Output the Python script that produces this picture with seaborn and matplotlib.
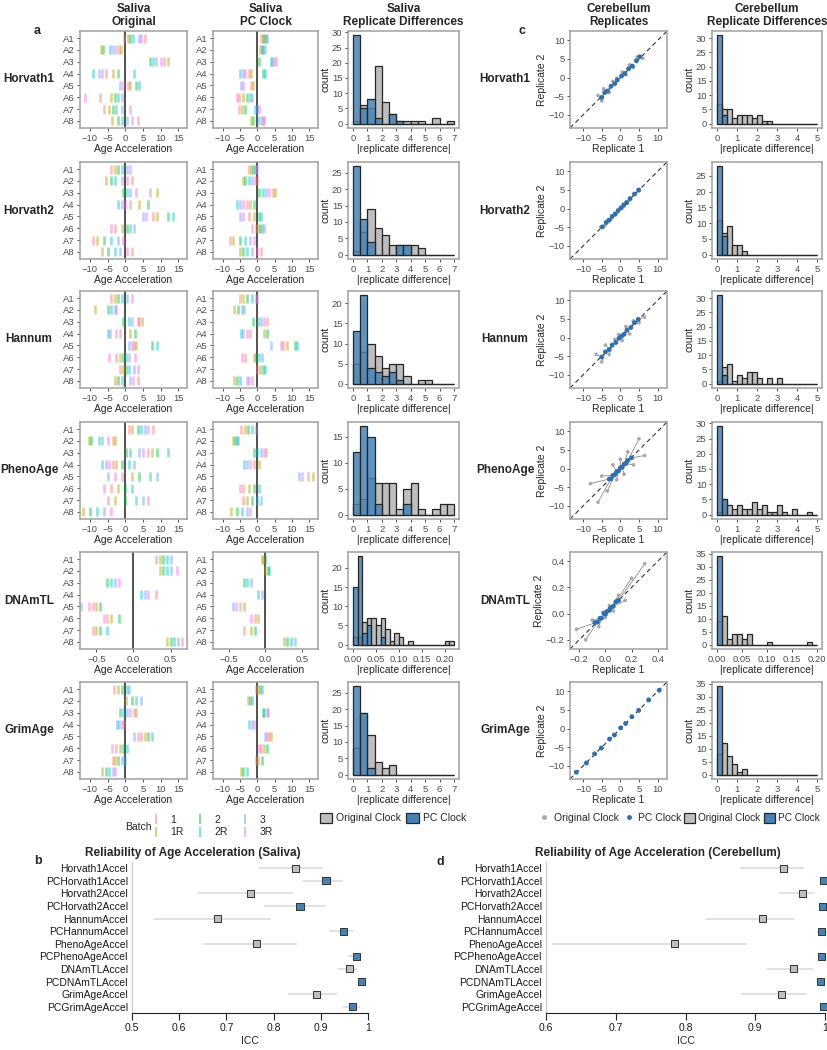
import numpy as np
import pandas as pd
import seaborn as sns
import matplotlib.pyplot as plt
from matplotlib.lines import Line2D
from matplotlib.patches import Patch
from matplotlib.ticker import MultipleLocator

CLOCKS = ["Horvath1", "Horvath2", "Hannum", "PhenoAge", "DNAmTL", "GrimAge"]
SAMPLES = ["A1", "A2", "A3", "A4", "A5", "A6", "A7", "A8"]
BATCHES = ["1", "1R", "2", "2R", "3", "3R"]
BATCH_COLORS = ["#F8766D", "#B79F00", "#00BA38", "#00BFC4", "#619CFF", "#F564E3"]
GREY = "#BEBEBE"
BLUE = "#4682B4"

# saliva age acceleration, one list per sample A1..A8
H1_ORIG = [[-0.3, 0.8, 1.5, 2.2, 3.8, 4.5, 5.5], [-6.8, -6.2, -4.2, -3.5, -2.5, -1.8, -1.2],
           [7.0, 8.0, 8.8, 10.0, 11.0, 12.0], [-9.0, -7.5, -6.5, -5.5, -3.5, -2.0, 2.5],
           [-1.5, -0.5, 0.8, 1.5, 3.0, 4.0], [-11.3, -7.0, -4.0, -3.0, -2.0, -1.0],
           [-6.0, -4.5, -3.5, -2.5, -1.0, 1.5], [-3.8, -2.0, -1.0, 0.5, 2.0, 3.5]]
H1_PC = [[1.0, 1.5, 2.0, 2.5, 2.8], [0.9, 1.2, 1.6, 2.2], [0.5, 3.9, 4.3, 4.8, 5.3],
         [-5.0, -4.2, -3.5, -2.5, -1.8, 1.5, 2.3], [-4.6, -4.0, -1.8, -1.2],
         [-5.8, -5.2, -4.0, -3.0, -2.0, -1.5], [-5.2, -4.5, -3.7, -0.6, -0.2, 0.5],
         [-1.8, -1.2, 0.3, 1.0, 1.7, 2.0]]
H2_ORIG = [[-4.0, -3.0, -2.0, -1.0, 0.5, 1.5], [-5.5, -4.0, -3.0, -1.0, 0.5, 2.0],
           [-0.5, 0.5, 1.5, 3.0, 7.0, 9.0], [-2.0, -1.0, 0.0, 1.5, 4.0, 6.5],
           [5.0, 6.0, 8.0, 9.0, 12.0, 13.5], [-4.0, -3.0, -1.0, 0.5, 1.5, 2.5],
           [-9.0, -8.0, -6.0, -4.0, -2.0, -0.5], [-6.5, -5.0, -3.0, -1.5, 0.5, 2.0]]
H2_PC = [[-2.3, -1.8, -1.2, -0.8, -0.3, 0.0], [-4.0, -3.5, -2.5, -1.5, -0.8, -0.2],
         [0.5, 1.5, 2.5, 3.5, 4.5, 5.0], [-6.0, -5.0, -4.0, -3.0, -2.0, -1.0],
         [-5.0, -4.0, -2.5, -1.0, 0.5, 1.0], [-1.5, -0.5, 0.3, 0.8, 1.3, 1.8],
         [-7.8, -7.0, -5.0, -3.5, -2.0, -1.0], [-5.0, -4.0, -3.0, -1.5, 0.0, 1.0]]
HA_ORIG = [[-4.0, -3.0, -2.0, -1.0, 0.5, 2.0], [-8.5, -5.0, -4.0, -3.0, -2.5],
           [-0.5, 1.0, 2.0, 3.5, 4.0, 4.8], [-5.0, -4.3, -2.5, -1.5, 1.5, 2.8],
           [1.0, 1.8, 2.5, 3.0, 7.5, 9.0], [-4.5, -2.5, -1.5, -0.5, 0.3, 1.2, 2.8],
           [-1.5, -0.5, 0.3, 1.0, 2.5, 3.5], [-2.8, -2.0, -1.0, 1.5, 2.3, 3.5]]
HA_PC = [[-5.0, -4.0, -3.0, -1.5, -0.5, 0.0], [-6.7, -5.5, -4.5, -3.8],
         [-1.4, 0.3, 1.0, 1.8, 2.9], [-4.8, -4.0, -3.0, -2.0, 2.0, 2.9],
         [3.8, 6.8, 7.5, 8.5, 11.0, 11.5], [-4.3, -3.5, -1.0, -0.3, 0.5, 1.3],
         [0.0, 0.8, 1.5, 2.2], [-6.7, -6.0, -5.0, -3.0, -2.3, -1.5]]
PA_ORIG = [[1.0, 2.0, 3.5, 4.5, 5.5, 6.5, 8.0], [-10.3, -9.8, -7.5, -6.5, -5.0, -3.5, -2.8],
           [0.2, 1.5, 4.0, 5.0, 6.5, 7.5, 9.0, 12.0], [-6.7, -5.5, -4.5, -3.5, -2.5, -0.8, 1.2, 2.5],
           [-5.0, -3.0, -1.0, 2.0, 4.0, 7.0, 9.0], [-6.0, -4.0, -2.0, 0.0, 2.0],
           [-5.0, -3.0, 0.0, 3.0, 5.0, 6.5], [-12.0, -10.0, -8.0, -6.0, -4.0]]
PA_PC = [[-4.8, -3.5, -2.7, -1.5, -0.3], [-7.0, -6.5, -6.0, -5.5], [-1.0, 0.0, 1.0, 2.0, 2.5],
         [-3.8, -3.0, -2.0, -1.0, 0.5], [12.0, 13.0, 14.5, 16.0], [-5.0, -4.0, -2.5, -1.0, 0.5],
         [-4.0, -3.0, -1.5, 0.0, 1.0], [-7.5, -6.0, -4.5, -3.0, -2.0]]
TL_ORIG = [[0.3, 0.35, 0.4, 0.45, 0.5], [0.35, 0.4, 0.45, 0.5, 0.58], [-0.35, -0.3, -0.25, -0.2],
           [0.1, 0.15, 0.2, 0.3], [-0.7, -0.6, -0.55, -0.5, -0.45], [-0.4, -0.35, -0.3, -0.2],
           [-0.55, -0.5, -0.45, -0.35], [0.45, 0.5, 0.55, 0.6, 0.65]]
TL_PC = [[-0.05, -0.03, 0.0], [0.0, 0.03, 0.05], [-0.3, -0.25, -0.2], [-0.1, -0.05],
         [-0.45, -0.4, -0.35, -0.3], [-0.2, -0.15, -0.1], [-0.3, -0.2, -0.15],
         [0.25, 0.3, 0.35, 0.4]]
GA_ORIG = [[-3.3, -2.0, -1.0, 0.5, 1.2], [0.3, 2.0, 3.0, 4.5], [-1.4, -0.5, 0.5, 1.5, 2.5, 3.0],
           [-2.4, -1.8, -1.0, -0.3], [2.4, 3.5, 4.5, 5.5, 6.5, 7.5], [-3.8, -2.5, -1.5, -0.5, 0.5],
           [-3.5, -2.8, -2.0, -1.0, 0.0], [-6.7, -5.5, -4.5, -3.5, -2.9]]
GA_PC = [[-0.5, 0.3, 0.8, 1.2], [-2.8, -2.2, -1.6], [1.5, 2.0, 2.8, 3.2], [-2.4, -1.5, -1.0],
         [2.2, 2.8, 3.5, 3.8], [0.5, 1.0, 1.8, 2.7], [-0.5, 0.3, 1.2], [-4.7, -4.0, -3.0]]

# saliva |replicate difference| histogram counts (bin width 0.5 from 0 to 7; DNAmTL 0.01 from 0 to 0.22)
SAL_H1_ORIG = [1, 6, 5, 19, 7, 3, 1, 1, 1, 1, 0, 2, 0, 1]
SAL_H1_PC = [29, 5, 8, 2, 0, 3, 1, 0, 0, 0, 0, 0, 0, 0]
SAL_H2_ORIG = [1, 7, 14, 8, 6, 3, 3, 3, 3, 2, 0, 0, 0, 0]
SAL_H2_PC = [27, 11, 4, 0, 0, 0, 3, 3, 0, 0, 0, 0, 0, 0]
SAL_HA_ORIG = [5, 8, 10, 7, 4, 5, 5, 2, 0, 1, 1, 0, 0, 0]
SAL_HA_PC = [13, 22, 4, 3, 2, 3, 1, 0, 0, 0, 0, 0, 0, 0]
SAL_PA_ORIG = [2, 3, 7, 6, 6, 6, 1, 5, 6, 1, 0, 1, 2, 2]
SAL_PA_PC = [12, 17, 15, 2, 0, 0, 0, 2, 0, 0, 0, 0, 0, 0]
SAL_TL_ORIG = [2, 2, 6, 7, 7, 5, 7, 4, 1, 3, 2, 0, 1, 0, 0, 0, 0, 0, 0, 0, 1, 1]
SAL_TL_PC = [15, 23, 3, 5, 0, 0, 2, 0, 0, 0, 0, 0, 0, 0, 0, 0, 0, 0, 0, 0, 0, 0]
SAL_GA_ORIG = [8, 19, 12, 4, 2, 3, 0, 0, 0, 0, 0, 0, 0, 0]
SAL_GA_PC = [27, 19, 2, 0, 0, 0, 0, 0, 0, 0, 0, 0, 0, 0]

# cerebellum |replicate difference| histogram counts (bin width 0.25 from 0 to 5; DNAmTL 0.01 from 0 to 0.2)
CER_H1_ORIG = [7, 5, 5, 2, 3, 3, 3, 2, 3, 1, 1, 0, 0, 0, 0, 0, 0, 0, 0, 0]
CER_H1_PC = [31, 3, 0, 0, 0, 0, 0, 0, 0, 0, 0, 0, 0, 0, 0, 0, 0, 0, 0, 0]
CER_H2_ORIG = [11, 7, 9, 3, 3, 1, 0, 0, 0, 0, 0, 0, 0, 0, 0, 0, 0, 0, 0, 0]
CER_H2_PC = [28, 6, 0, 0, 0, 0, 0, 0, 0, 0, 0, 0, 0, 0, 0, 0, 0, 0, 0, 0]
CER_HA_ORIG = [1, 6, 7, 1, 3, 2, 4, 4, 2, 0, 2, 0, 2, 0, 0, 0, 0, 0, 0, 0]
CER_HA_PC = [31, 3, 0, 0, 0, 0, 0, 0, 0, 0, 0, 0, 0, 0, 0, 0, 0, 0, 0, 0]
CER_PA_ORIG = [1, 5, 3, 2, 3, 2, 2, 4, 2, 3, 1, 1, 3, 1, 0, 2, 0, 0, 1, 0]
CER_PA_PC = [29, 5, 0, 0, 0, 0, 0, 0, 0, 0, 0, 0, 0, 0, 0, 0, 0, 0, 0, 0]
CER_TL_ORIG = [9, 11, 2, 4, 4, 2, 4, 0, 0, 0, 1, 0, 0, 0, 0, 0, 0, 0, 1, 0]
CER_TL_PC = [34, 0, 0, 0, 0, 0, 0, 0, 0, 0, 0, 0, 0, 0, 0, 0, 0, 0, 0, 0]
CER_GA_ORIG = [8, 12, 7, 4, 1, 2, 0, 0, 0, 0, 0, 0, 0, 0, 0, 0, 0, 0, 0, 0]
CER_GA_PC = [34, 0, 0, 0, 0, 0, 0, 0, 0, 0, 0, 0, 0, 0, 0, 0, 0, 0, 0, 0]

# cerebellum replicates (replicate 1, replicate 2) for original and PC clocks
REP_H1 = ([-6.0, -5.0, -4.5, -3.0, -2.0, -1.0, 0.5, 1.5, 2.5, 3.5, 4.5, 6.0],
          [-4.8, -6.2, -3.0, -4.0, -1.0, -0.2, 1.5, 0.8, 3.4, 2.8, 5.5, 5.2],
          [-5.0, -4.2, -3.5, -2.5, -1.5, -0.8, 0.3, 1.2, 2.2, 3.2, 4.3, 5.2],
          [-5.3, -4.0, -3.6, -2.3, -1.6, -0.6, 0.4, 1.1, 2.4, 3.1, 4.5, 5.6])
REP_H2 = ([-5.2, -4.0, -3.3, -2.5, -1.5, -0.8, 0.0, 0.8, 1.6, 2.5, 3.6, 5.0],
          [-4.9, -4.4, -3.0, -2.8, -1.2, -1.0, 0.3, 0.5, 1.9, 2.3, 3.9, 4.8],
          [-4.8, -3.8, -3.0, -2.2, -1.4, -0.6, 0.2, 0.9, 1.7, 2.6, 3.8, 4.9],
          [-4.9, -3.7, -3.1, -2.1, -1.5, -0.5, 0.2, 1.0, 1.6, 2.7, 3.9, 5.0])
REP_HA = ([-6.5, -5.0, -4.0, -3.0, -1.5, -0.5, 0.5, 1.5, 2.5, 3.5, 5.0, 6.5],
          [-4.5, -6.5, -2.0, -4.5, -0.5, 0.8, -0.8, 3.0, 1.0, 4.5, 4.0, 5.5],
          [-5.0, -4.0, -3.0, -2.2, -1.2, -0.4, 0.3, 1.0, 1.8, 2.8, 3.8, 4.8],
          [-5.2, -3.8, -3.2, -2.0, -1.3, -0.2, 0.4, 0.9, 2.0, 2.7, 4.0, 4.9])
REP_PA = ([-8.0, -6.0, -5.0, -3.5, -2.0, -1.0, 0.0, 1.0, 2.0, 3.5, 5.0, 6.5],
          [-4.0, -9.0, -2.0, -6.0, 1.0, -3.0, 2.5, -1.5, 4.5, 1.0, 8.0, 3.5],
          [-3.0, -2.5, -2.0, -1.5, -1.0, -0.5, 0.0, 0.5, 1.0, 1.5, 2.0, 3.0],
          [-2.8, -2.7, -1.8, -1.6, -0.8, -0.6, 0.2, 0.4, 1.2, 1.4, 2.2, 2.9])
REP_TL = ([-0.22, -0.15, -0.1, -0.05, -0.02, 0.0, 0.03, 0.06, 0.1, 0.15, 0.2, 0.3],
          [-0.12, -0.2, -0.05, -0.1, 0.01, -0.03, 0.06, 0.02, 0.14, 0.1, 0.27, 0.38],
          [-0.08, -0.06, -0.04, -0.03, -0.01, 0.0, 0.01, 0.03, 0.04, 0.06, 0.08, 0.1],
          [-0.07, -0.065, -0.035, -0.035, 0.0, -0.005, 0.015, 0.025, 0.045, 0.055, 0.09, 0.1])
REP_GA = ([-12.0, -9.0, -7.0, -5.0, -3.0, -1.5, 0.0, 1.5, 3.0, 5.0, 7.5, 10.5],
          [-11.6, -9.4, -6.6, -5.3, -2.7, -1.8, 0.3, 1.3, 3.3, 4.8, 7.8, 10.2],
          [-11.8, -9.1, -6.9, -5.1, -2.9, -1.6, 0.1, 1.4, 3.1, 4.9, 7.6, 10.4],
          [-11.7, -9.2, -6.8, -5.2, -2.8, -1.7, 0.2, 1.4, 3.2, 4.9, 7.7, 10.3])

# reliability (ICC with confidence interval)
ICC_TERMS = ["Horvath1Accel", "PCHorvath1Accel", "Horvath2Accel", "PCHorvath2Accel",
             "HannumAccel", "PCHannumAccel", "PhenoAgeAccel", "PCPhenoAgeAccel",
             "DNAmTLAccel", "PCDNAmTLAccel", "GrimAgeAccel", "PCGrimAgeAccel"]
SAL_ICC = [0.847, 0.911, 0.752, 0.856, 0.682, 0.948, 0.763, 0.975, 0.960, 0.987, 0.891, 0.968]
SAL_LO = [0.769, 0.862, 0.638, 0.780, 0.547, 0.918, 0.651, 0.958, 0.937, 0.979, 0.831, 0.947]
SAL_HI = [0.905, 0.947, 0.842, 0.911, 0.794, 0.969, 0.849, 0.985, 0.977, 0.993, 0.934, 0.982]
CER_ICC = [0.940, 0.998, 0.968, 0.997, 0.911, 0.995, 0.784, 0.995, 0.955, 0.994, 0.938, 0.998]
CER_LO = [0.878, 0.996, 0.934, 0.994, 0.829, 0.990, 0.609, 0.990, 0.917, 0.989, 0.879, 0.996]
CER_HI = [0.970, 0.999, 0.984, 0.999, 0.956, 0.998, 0.888, 0.998, 0.983, 0.997, 0.974, 0.999]

sns.set_theme(style="white")
plt.rcParams["font.family"] = ["Liberation Sans", "DejaVu Sans"]
plt.rcParams["axes.unicode_minus"] = True

W, H = 828, 1050
fig = plt.figure(figsize=(W / 100, H / 100), dpi=100)


def px_axes(x0, y0, x1, y1):
    return fig.add_axes([x0 / W, 1 - y1 / H, (x1 - x0) / W, (y1 - y0) / H])


def box_style(ax):
    for s in ax.spines.values():
        s.set_color("#A0A0A0")
        s.set_linewidth(1.1)
    ax.tick_params(axis="both", which="both", length=2.5, width=0.6, color="#333333",
                   labelsize=6.8, labelcolor="#4D4D4D", pad=1.5, direction="out",
                   bottom=True, left=True)


def tick_panel(ax, rows, xlim, xticks, fmt):
    recs = [(v, i, BATCHES[(i + j) % 6]) for i, r in enumerate(rows) for j, v in enumerate(r)]
    df = pd.DataFrame(recs, columns=["acc", "row", "batch"])
    ax.axvline(0, color="#222222", lw=1.1, zorder=1)
    sns.scatterplot(data=df, x="acc", y="row", hue="batch", hue_order=BATCHES,
                    palette=BATCH_COLORS, marker="|", s=42, linewidth=1.9, alpha=0.45,
                    legend=False, ax=ax, zorder=2)
    ax.set_xlim(xlim)
    ax.set_ylim(7.6, -0.6)
    ax.set_yticks(range(8))
    ax.set_yticklabels(SAMPLES)
    ax.set_xticks(xticks)
    ax.set_xticklabels([fmt(t) for t in xticks])
    ax.set_ylabel("")
    ax.set_xlabel("Age Acceleration", fontsize=7.5, labelpad=1)
    box_style(ax)


def hist_panel(ax, width, nbins, orig, pc, xticks, fmt):
    centers = (np.arange(nbins) + 0.5) * width
    df = pd.DataFrame({"diff": centers, "orig": orig, "pc": pc})
    rng = (0.0, nbins * width)
    sns.histplot(data=df, x="diff", weights="orig", binwidth=width, binrange=rng,
                 color=GREY, alpha=1.0, edgecolor="#262626", linewidth=0.9, ax=ax)
    sns.histplot(data=df, x="diff", weights="pc", binwidth=width, binrange=rng,
                 color=BLUE, alpha=0.85, edgecolor="#262626", linewidth=0.9, ax=ax)
    top = max(max(orig), max(pc))
    span = rng[1]
    ax.set_xlim(-0.05 * span, 1.05 * span)
    ax.set_ylim(-0.05 * top, 1.05 * top)
    ax.yaxis.set_major_locator(MultipleLocator(5))
    ax.set_xticks(xticks)
    ax.set_xticklabels([fmt(t) for t in xticks])
    ax.set_ylabel("count", fontsize=7.5, labelpad=1)
    ax.set_xlabel("|replicate difference|", fontsize=7.5, labelpad=1)
    box_style(ax)


def rep_panel(ax, rep, lim, ticks, fmt):
    r1o, r2o, r1p, r2p = rep
    ax.plot(lim, lim, color="#333333", lw=0.8, ls=(0, (4, 3)), zorder=1)
    for a, b, c, d in zip(r1o, r2o, r1p, r2p):
        ax.plot([a, c], [b, d], color="#8C8C8C", lw=0.6, zorder=2)
    sns.scatterplot(x=r1o, y=r2o, color="#A8A8A8", s=7, edgecolor="none", ax=ax, zorder=3)
    sns.scatterplot(x=r1p, y=r2p, color="#2F6FAE", s=12, edgecolor="none", ax=ax, zorder=4)
    ax.set_xlim(lim)
    ax.set_ylim(lim)
    ax.set_xticks(ticks)
    ax.set_yticks(ticks)
    ax.set_xticklabels([fmt(t) for t in ticks])
    ax.set_yticklabels([fmt(t) for t in ticks])
    ax.set_xlabel("Replicate 1", fontsize=7.5, labelpad=1)
    ax.set_ylabel("Replicate 2", fontsize=7.5, labelpad=1)
    box_style(ax)


int_fmt = lambda t: f"{t:g}".replace("-", "\u2212")
one_fmt = lambda t: f"{t:.1f}".replace("-", "\u2212")
two_fmt = lambda t: f"{t:.2f}"

ORIG_ROWS = [H1_ORIG, H2_ORIG, HA_ORIG, PA_ORIG, TL_ORIG, GA_ORIG]
PC_ROWS = [H1_PC, H2_PC, HA_PC, PA_PC, TL_PC, GA_PC]
SAL_HISTS = [(SAL_H1_ORIG, SAL_H1_PC), (SAL_H2_ORIG, SAL_H2_PC), (SAL_HA_ORIG, SAL_HA_PC),
             (SAL_PA_ORIG, SAL_PA_PC), (SAL_TL_ORIG, SAL_TL_PC), (SAL_GA_ORIG, SAL_GA_PC)]
CER_HISTS = [(CER_H1_ORIG, CER_H1_PC), (CER_H2_ORIG, CER_H2_PC), (CER_HA_ORIG, CER_HA_PC),
             (CER_PA_ORIG, CER_PA_PC), (CER_TL_ORIG, CER_TL_PC), (CER_GA_ORIG, CER_GA_PC)]
REPS = [REP_H1, REP_H2, REP_HA, REP_PA, REP_TL, REP_GA]

ROW_TOPS = [31, 162, 291, 422, 552, 682]
RH = 97

for k, clock in enumerate(CLOCKS):
    y0 = ROW_TOPS[k]
    y1 = y0 + RH
    tl = clock == "DNAmTL"
    a1 = px_axes(80, y0, 187, y1)
    a2 = px_axes(213, y0, 318, y1)
    a3 = px_axes(348, y0, 459, y1)
    a4 = px_axes(570, y0, 667, y1)
    a5 = px_axes(712, y0, 822, y1)
    if tl:
        tick_panel(a1, ORIG_ROWS[k], (-0.72, 0.72), [-0.5, 0.0, 0.5], one_fmt)
        tick_panel(a2, PC_ROWS[k], (-0.72, 0.72), [-0.5, 0.0, 0.5], one_fmt)
        hist_panel(a3, 0.01, 22, *SAL_HISTS[k], [0, 0.05, 0.1, 0.15, 0.2], two_fmt)
        rep_panel(a4, REPS[k], (-0.27, 0.47), [-0.2, 0.0, 0.2, 0.4], one_fmt)
        hist_panel(a5, 0.01, 20, *CER_HISTS[k], [0, 0.05, 0.1, 0.15, 0.2], two_fmt)
    else:
        tick_panel(a1, ORIG_ROWS[k], (-12.8, 17.5), [-10, -5, 0, 5, 10, 15], int_fmt)
        tick_panel(a2, PC_ROWS[k], (-12.8, 17.5), [-10, -5, 0, 5, 10, 15], int_fmt)
        hist_panel(a3, 0.5, 14, *SAL_HISTS[k], list(range(8)), int_fmt)
        rep_panel(a4, REPS[k], (-13.5, 12.5), [-10, -5, 0, 5, 10], int_fmt)
        hist_panel(a5, 0.25, 20, *CER_HISTS[k], list(range(6)), int_fmt)
    yc = 1 - (y0 + RH / 2) / H
    fig.text(29 / W, yc, clock, ha="center", va="center", fontsize=8.5, fontweight="bold")
    fig.text(505 / W, yc, clock, ha="center", va="center", fontsize=8.5, fontweight="bold")
    if k == 0:
        for ax, title in [(a1, "Saliva\nOriginal"), (a2, "Saliva\nPC Clock"),
                          (a3, "Saliva\nReplicate Differences"), (a4, "Cerebellum\nReplicates"),
                          (a5, "Cerebellum\nReplicate Differences")]:
            ax.set_title(title, fontsize=8.5, fontweight="bold", pad=4, linespacing=1.15)

# panel letters
for letter, x, y in [("a", 37, 31), ("b", 38, 861), ("c", 522, 31), ("d", 440, 862)]:
    fig.text(x / W, 1 - y / H, letter, ha="center", va="center", fontsize=9, fontweight="bold")

# legends
fig.text(138 / W, 1 - 827 / H, "Batch", ha="center", va="center", fontsize=7.5)
batch_handles = [Line2D([], [], marker="|", ls="none", color=c, alpha=0.5, markersize=7, mew=1.4)
                 for c in BATCH_COLORS]
fig.legend(batch_handles, BATCHES, loc="center", bbox_to_anchor=(212 / W, 1 - 826 / H), ncol=3,
           frameon=False, fontsize=7.5, handlelength=0.8, handletextpad=1.0, columnspacing=1.2,
           labelspacing=0.25, borderaxespad=0, borderpad=0.1)
hist_handles = [Patch(facecolor=GREY, edgecolor="#262626", lw=0.9),
                Patch(facecolor=BLUE, edgecolor="#262626", lw=0.9)]
fig.legend(hist_handles, ["Original Clock", "PC Clock"], loc="center",
           bbox_to_anchor=(393 / W, 1 - 818 / H), ncol=2, frameon=False, fontsize=7.5,
           handlelength=1.2, handleheight=1.2, handletextpad=0.4, columnspacing=0.5,
           borderpad=0.1)
fig.legend(hist_handles, ["Original Clock", "PC Clock"], loc="center",
           bbox_to_anchor=(752 / W, 1 - 818 / H), ncol=2, frameon=False, fontsize=7.2,
           handlelength=1.1, handleheight=1.2, handletextpad=0.35, columnspacing=0.35,
           borderpad=0.05, borderaxespad=0)
dot_handles = [Line2D([], [], marker="o", ls="none", color="#A8A8A8", markersize=2.5),
               Line2D([], [], marker="o", ls="none", color="#2F6FAE", markersize=2.5)]
fig.legend(dot_handles, ["Original Clock", "PC Clock"], loc="center",
           bbox_to_anchor=(611 / W, 1 - 818 / H), ncol=2, frameon=False, fontsize=7.5,
           handlelength=0.8, handletextpad=0.5, columnspacing=0.6, borderpad=0.1)


def icc_panel(ax, icc, lo, hi, xlim, xticks, title, title_x):
    df = pd.DataFrame({"term": ICC_TERMS, "pos": np.arange(12), "icc": icc,
                       "group": ["PC" if t.startswith("PC") else "Original" for t in ICC_TERMS]})
    ax.hlines(df["pos"], lo, hi, color="#DCDCDC", lw=1.2, zorder=1)
    sns.scatterplot(data=df, x="icc", y="pos", hue="group", hue_order=["Original", "PC"],
                    palette=[GREY, BLUE], marker="s", s=26, edgecolor="#333333", linewidth=0.7,
                    legend=False, ax=ax, zorder=3, clip_on=False)
    ax.set_ylim(11.5, -0.5)
    ax.set_xlim(xlim)
    ax.set_yticks(range(12))
    ax.set_yticklabels(ICC_TERMS)
    ax.set_xticks(xticks)
    ax.set_xticklabels([f"{t:g}" for t in xticks])
    ax.set_xlabel("ICC", fontsize=7.5, labelpad=2)
    ax.set_ylabel("")
    fig.text(title_x / W, 1 - 853 / H, title, ha="center", va="center", fontsize=8.5,
             fontweight="bold")
    for s in ["top", "right"]:
        ax.spines[s].set_visible(False)
    ax.spines["left"].set_color("#D0D0D0")
    ax.spines["left"].set_linewidth(1.0)
    ax.spines["bottom"].set_color("#222222")
    ax.spines["bottom"].set_linewidth(0.8)
    ax.tick_params(axis="y", length=0, labelsize=7.5, labelcolor="#1A1A1A", pad=3)
    ax.tick_params(axis="x", length=5, width=0.8, color="#222222", labelsize=7.5,
                   labelcolor="#1A1A1A", bottom=True, pad=2)


bx = px_axes(132, 862, 368, 1013)
icc_panel(bx, SAL_ICC, SAL_LO, SAL_HI, (0.5, 1.0), [0.5, 0.6, 0.7, 0.8, 0.9, 1.0],
          "Reliability of Age Acceleration (Saliva)", 193)
dx = px_axes(546, 862, 825, 1013)
icc_panel(dx, CER_ICC, CER_LO, CER_HI, (0.6, 1.0), [0.6, 0.7, 0.8, 0.9, 1.0],
          "Reliability of Age Acceleration (Cerebellum)", 658)

fig.savefig("out.png", dpi=100)
